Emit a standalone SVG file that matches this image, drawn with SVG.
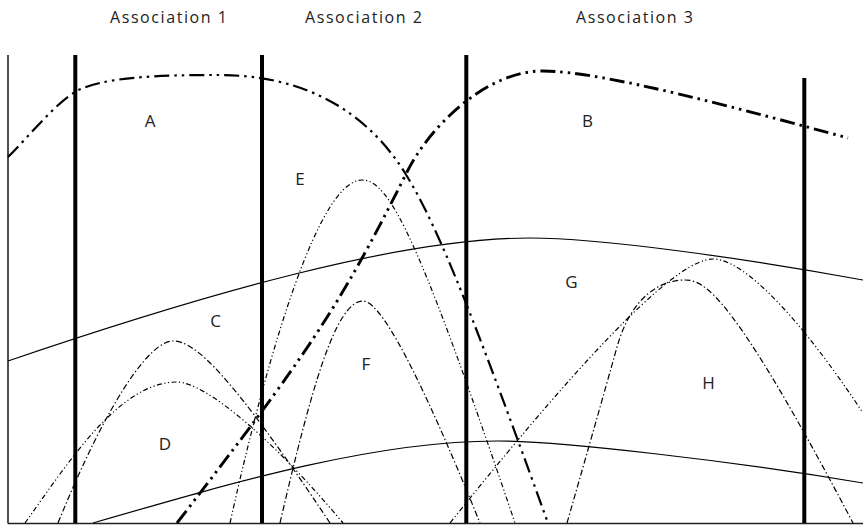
<svg xmlns="http://www.w3.org/2000/svg" width="863" height="525" viewBox="0 0 863 525">
<style>
text{font-family:"Open Sans","Liberation Sans",sans-serif;fill:#222}
.title{font-size:16px}
.lbl{font-size:17px;text-anchor:middle}
.axis{stroke:#222;stroke-width:1.6;fill:none}
.div{stroke:#000;stroke-width:4;fill:none}
.solid{stroke:#000;stroke-width:1.2;fill:none}
.big{stroke:#000;fill:none;stroke-dasharray:15 5 2.5 5 2.5 5}
.ddot{stroke:#000;stroke-width:1.2;fill:none;stroke-dasharray:5 2.5 1.2 2.5 1.2 2.5}
.dot1{stroke:#000;stroke-width:1.2;fill:none;stroke-dasharray:6 2.5 1.4 2.5}
</style>
<rect width="863" height="525" fill="#fff"/>
<g id="titles">
<text class="title" x="110" y="23" textLength="117" lengthAdjust="spacing">Association 1</text>
<text class="title" x="305" y="23" textLength="117" lengthAdjust="spacing">Association 2</text>
<text class="title" x="576" y="23" textLength="117" lengthAdjust="spacing">Association 3</text>
</g>
<g id="axes">
<line class="axis" x1="8" y1="55" x2="8" y2="523.5"/>
<line class="axis" x1="8" y1="523.5" x2="863" y2="523.5"/>
</g>
<g id="dividers">
<line class="div" x1="75.3" y1="55" x2="75.3" y2="523"/>
<line class="div" x1="262" y1="55" x2="262" y2="523"/>
<line class="div" x1="466.3" y1="55" x2="466.3" y2="523"/>
<line class="div" x1="804.3" y1="78" x2="804.3" y2="523"/>
</g>
<g id="curves">
<path id="curve-A" class="big" stroke-width="2.2" d="M8,157 C30,135 55,104 75,92 C100,77 160,75 215,75 C250,75 345,77 405,173 C440,229 478,330 548,523"/>
<path id="curve-B" class="big" stroke-width="2.9" d="M177,523 C307,354 337,312 407,172 C427,131 483,71 543,71 C603,71 748,111 848,138"/>
<path id="curve-C" class="solid" d="M8,361 C208,293 400,238 530,238 C600,238 743,258 863,280"/>
<path id="curve-low" class="solid" d="M93,523 C243,479.5 377,441 497,441 C560,441 733,461 863,483"/>
<path id="curve-D1" class="dot1" d="M58,523 C108,400 150,341 173,341 C195,341 230,373 330,523"/>
<path id="curve-D2" class="ddot" d="M25,523 C70,460 120,382 177,382 C205,382 273,439 343,523"/>
<path id="curve-E" class="ddot" d="M230,523 C270,343 320,180 362,180 C390,180 420,242 515,523"/>
<path id="curve-F" class="dot1" d="M280,523 C310,394 335,301 363,301 C385,301 435,412 480,523"/>
<path id="curve-H1" class="ddot" d="M450,523 C600,335.5 680,259 713,259 C745,259 803,322 863,413"/>
<path id="curve-H2" class="dot1" d="M567,523 C580,478 605,390 617,347 C632,294.5 662,280 685,280 C705,280 733,295 853,523"/>
</g>
<g id="labels">
<text class="lbl" x="150" y="127">A</text>
<text class="lbl" x="587.5" y="127">B</text>
<text class="lbl" x="215.5" y="327">C</text>
<text class="lbl" x="165" y="450">D</text>
<text class="lbl" x="300" y="185">E</text>
<text class="lbl" x="366" y="370">F</text>
<text class="lbl" x="571.5" y="288">G</text>
<text class="lbl" x="708.5" y="389">H</text>
</g>
</svg>
